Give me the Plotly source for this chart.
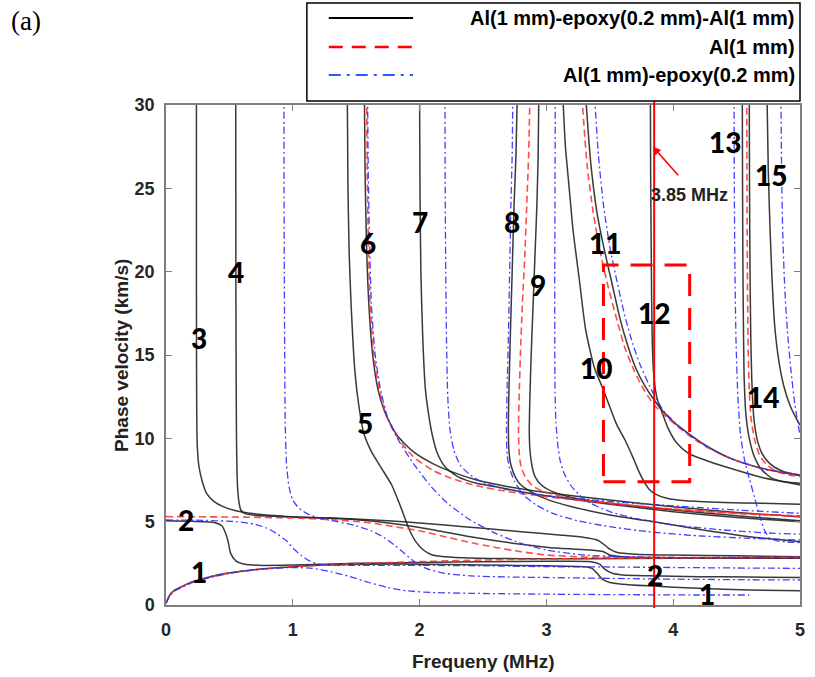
import plotly.graph_objects as go

# ---------------- Al(1 mm)-epoxy(0.2 mm)-Al(1 mm): black solid ----------------
aea_m1_f = [0, 0.03, 0.06, 0.11, 0.21, 0.35, 0.48, 0.73, 1.0, 1.25, 1.6, 2.0, 2.5, 3.0, 3.3, 3.36, 3.4, 3.44, 3.5, 3.6, 3.8, 4.2, 4.6, 5.0]
aea_m1_v = [0.1, 0.6, 0.85, 1.05, 1.4, 1.7, 1.9, 2.15, 2.3, 2.4, 2.45, 2.45, 2.4, 2.35, 2.3, 2.2, 1.9, 1.55, 1.35, 1.25, 1.15, 1.0, 0.9, 0.85]

aea_m2_f = [0, 0.2, 0.38, 0.44, 0.47, 0.49, 0.51, 0.55, 0.62, 0.73, 1.0, 1.5, 2.0, 2.5, 3.0, 3.35, 3.42, 3.46, 3.52, 3.6, 3.8, 4.2, 4.6, 5.0]
aea_m2_v = [5.05, 5.02, 4.95, 4.75, 4.3, 3.8, 3.1, 2.65, 2.45, 2.38, 2.4, 2.5, 2.55, 2.6, 2.62, 2.6, 2.45, 2.15, 1.9, 1.8, 1.75, 1.7, 1.68, 1.65]

aea_m3_f = [0.24, 0.24, 0.241, 0.243, 0.247, 0.26, 0.29, 0.32, 0.38, 0.45, 0.55, 0.66, 0.97, 1.3, 1.6, 2.0, 2.4, 2.8, 3.1, 3.35, 3.45, 3.5, 3.6, 3.8, 4.2, 5.0]
aea_m3_v = [30.5, 20, 14, 11, 9.5, 8.3, 7.3, 6.7, 6.2, 5.9, 5.65, 5.5, 5.3, 5.2, 5.05, 4.65, 4.1, 3.65, 3.4, 3.3, 3.2, 3.0, 2.9, 2.85, 2.82, 2.8]

aea_m4_f = [0.55, 0.551, 0.553, 0.556, 0.56, 0.565, 0.575, 0.59, 0.62, 0.7, 0.85, 1.0, 1.3, 1.6, 1.9, 2.2, 2.5, 2.8, 3.1, 3.3, 3.4, 3.46, 3.5, 3.56, 3.7, 4.0, 4.5, 5.0]
aea_m4_v = [30.5, 20, 14, 10, 8, 7, 6.2, 5.7, 5.5, 5.38, 5.32, 5.28, 5.22, 5.12, 4.98, 4.8, 4.6, 4.4, 4.2, 4.05, 3.9, 3.6, 3.35, 3.15, 3.05, 3.0, 2.95, 2.9]

aea_m5_f = [1.43, 1.435, 1.445, 1.46, 1.49, 1.52, 1.56, 1.62, 1.7, 1.78, 1.84, 1.88, 1.92, 1.97, 2.03, 2.1, 2.2, 2.4, 2.8, 3.3, 4.0, 5.0]
aea_m5_v = [30.5, 25, 21, 18, 14, 12, 10.3, 9.2, 8.2, 7.2, 6.1, 5.3, 4.5, 3.8, 3.3, 3.0, 2.9, 2.82, 2.78, 2.78, 2.8, 2.82]

aea_m6_f = [1.565, 1.57, 1.58, 1.6, 1.63, 1.67, 1.73, 1.82, 1.95, 2.1, 2.25, 2.45, 2.7, 3.0, 3.5, 4.0, 4.5, 5.0]
aea_m6_v = [30.5, 26, 22, 18, 15, 13, 11.5, 10.2, 9.2, 8.5, 8.0, 7.5, 7.1, 6.75, 6.3, 5.9, 5.55, 5.3]

aea_m7_f = [2.0, 2.003, 2.01, 2.025, 2.045, 2.07, 2.1, 2.14, 2.2, 2.3, 2.45, 2.6, 2.8, 3.0, 3.5, 4.0, 4.5, 5.0]
aea_m7_v = [30.5, 25, 20, 16, 13, 11.5, 10.2, 9.1, 8.3, 7.7, 7.3, 7.1, 6.8, 6.55, 6.05, 5.6, 5.25, 5.0]

aea_m8_f = [2.77, 2.76, 2.745, 2.73, 2.715, 2.705, 2.70, 2.705, 2.72, 2.76, 2.8, 2.9, 3.0, 3.2, 3.5, 3.8, 4.2, 4.6, 5.0]
aea_m8_v = [30.5, 27, 24, 20, 16, 13, 10.5, 9.2, 8.4, 7.6, 7.2, 6.7, 6.35, 5.9, 5.4, 5.05, 4.55, 4.1, 3.8]

aea_m9_f = [2.94, 2.935, 2.925, 2.91, 2.895, 2.88, 2.87, 2.865, 2.87, 2.885, 2.91, 2.96, 3.05, 3.2, 3.5, 4.0, 4.5, 5.0]
aea_m9_v = [30.5, 27, 24, 21, 18, 15, 12.5, 10.5, 9.3, 8.4, 7.7, 7.2, 6.8, 6.45, 6.1, 5.7, 5.35, 5.05]

aea_m10_f = [3.13, 3.15, 3.18, 3.21, 3.26, 3.31, 3.38, 3.45, 3.55, 3.62, 3.68, 3.73, 3.77, 3.81, 3.86, 3.95, 4.1, 4.4, 4.7, 5.0]
aea_m10_v = [30.5, 27.5, 25, 22.5, 19.5, 16.5, 14.2, 12.9, 10.9, 9.9, 8.9, 8.0, 7.4, 6.95, 6.65, 6.4, 6.25, 6.15, 6.1, 6.05]

aea_m11_f = [3.31, 3.35, 3.4, 3.46, 3.52, 3.58, 3.64, 3.7, 3.78, 3.85, 3.91, 4.0, 4.1, 4.25, 4.45, 4.7, 5.0]
aea_m11_v = [30.5, 26.5, 23.5, 21.2, 19.2, 17.2, 15.6, 14.3, 13.1, 12.3, 11.7, 11.0, 10.4, 9.6, 8.8, 8.2, 7.75]

aea_m12_f = [3.82, 3.822, 3.826, 3.83, 3.836, 3.845, 3.86, 3.88, 3.91, 3.96, 4.03, 4.12, 4.25, 4.45, 4.7, 5.0]
aea_m12_v = [30.5, 26, 22, 18.3, 15.5, 14.0, 12.9, 12.2, 11.6, 10.6, 9.7, 9.1, 8.7, 8.2, 7.65, 7.2]

aea_m13_f = [4.545, 4.547, 4.55, 4.555, 4.56, 4.575, 4.6, 4.64, 4.7, 4.78, 4.88, 5.0]
aea_m13_v = [30.5, 25, 20, 16, 13.5, 11.3, 10, 8.9, 8.1, 7.6, 7.4, 7.3]

aea_m14_f = [4.6, 4.602, 4.606, 4.612, 4.62, 4.635, 4.66, 4.7, 4.76, 4.84, 4.92, 5.0]
aea_m14_v = [30.5, 25, 20, 16, 13.5, 11.3, 10, 9.1, 8.5, 8.1, 7.9, 7.8]

aea_m15_f = [4.74, 4.75, 4.765, 4.78, 4.8, 4.83, 4.87, 4.92, 4.97, 5.0]
aea_m15_v = [30.5, 26, 22.3, 19.5, 16.8, 14.8, 13.2, 12.0, 11.2, 10.8]

# ---------------- Al(1 mm): red dashed ----------------
al_a0_f = [0, 0.03, 0.06, 0.11, 0.21, 0.35, 0.5, 0.75, 1.0, 1.5, 2.0, 2.5, 3.0, 3.5, 4.0, 4.5, 5.0]
al_a0_v = [0.1, 0.6, 0.85, 1.05, 1.4, 1.7, 1.92, 2.15, 2.3, 2.48, 2.6, 2.7, 2.76, 2.8, 2.82, 2.84, 2.85]

al_s0_f = [0, 0.5, 1.0, 1.3, 1.59, 1.8, 2.0, 2.2, 2.4, 2.6, 2.8, 3.0, 3.3, 3.6, 4.0, 4.5, 5.0]
al_s0_v = [5.3, 5.28, 5.22, 5.12, 4.95, 4.7, 4.45, 4.1, 3.75, 3.45, 3.2, 3.0, 2.88, 2.85, 2.85, 2.85, 2.86]

al_a1_f = [1.583, 1.587, 1.595, 1.61, 1.64, 1.68, 1.74, 1.83, 1.95, 2.1, 2.25, 2.45, 2.7, 3.0, 3.5, 4.0, 4.5, 5.0]
al_a1_v = [30.5, 26, 22, 18, 15, 13, 11.3, 10.0, 8.9, 8.1, 7.6, 7.15, 6.8, 6.5, 6.1, 5.75, 5.5, 5.3]

al_s1_f = [2.87, 2.86, 2.845, 2.83, 2.81, 2.795, 2.785, 2.78, 2.785, 2.8, 2.84, 2.9, 3.0, 3.2, 3.5, 4.0, 4.5, 5.0]
al_s1_v = [30.5, 27, 24, 21, 18, 15, 12.5, 10.5, 9.2, 8.3, 7.6, 7.1, 6.75, 6.4, 6.1, 5.75, 5.5, 5.35]

al_m3_f = [3.28, 3.32, 3.37, 3.43, 3.49, 3.56, 3.62, 3.69, 3.77, 3.85, 3.93, 4.02, 4.12, 4.27, 4.47, 4.72, 5.0]
al_m3_v = [30.5, 26.5, 23.5, 21, 19, 17, 15.4, 14.1, 12.9, 12.0, 11.4, 10.8, 10.2, 9.45, 8.75, 8.15, 7.8]

al_m4_f = [4.58, 4.582, 4.585, 4.59, 4.597, 4.612, 4.64, 4.68, 4.74, 4.82, 4.91, 5.0]
al_m4_v = [30.5, 25, 20, 16, 13.5, 11.3, 10, 9.0, 8.4, 8.0, 7.8, 7.7]

# ---------------- Al(1 mm)-epoxy(0.2 mm): blue dash-dot ----------------
ae_m1_f = [0, 0.03, 0.06, 0.11, 0.21, 0.35, 0.5, 0.75, 1.0, 1.15, 1.3, 1.45, 1.6, 1.75, 1.9, 2.1, 2.4, 3.0, 3.6, 4.2, 4.6]
ae_m1_v = [0.1, 0.55, 0.8, 1.0, 1.35, 1.65, 1.9, 2.15, 2.25, 2.2, 2.0, 1.7, 1.35, 1.05, 0.85, 0.75, 0.7, 0.65, 0.62, 0.6, 0.6]

ae_m2_f = [0, 0.3, 0.55, 0.7, 0.8, 0.88, 0.95, 1.01, 1.07, 1.13, 1.2, 1.35, 1.6, 2.0, 2.5, 3.0, 3.5, 4.0, 4.5, 5.0]
ae_m2_v = [5.1, 5.08, 5.0, 4.85, 4.6, 4.25, 3.85, 3.35, 2.95, 2.65, 2.45, 2.38, 2.38, 2.38, 2.35, 2.3, 2.28, 2.25, 2.22, 2.2]

ae_m3_f = [0.93, 0.931, 0.933, 0.936, 0.94, 0.95, 0.97, 1.0, 1.05, 1.12, 1.22, 1.35, 1.5, 1.62, 1.72, 1.8, 1.88, 1.96, 2.05, 2.2, 2.4, 2.7, 3.0, 3.5, 4.0, 4.5, 5.0]
ae_m3_v = [30.5, 25, 20, 15, 11, 8.5, 7.1, 6.3, 5.8, 5.45, 5.2, 5.0, 4.75, 4.45, 4.05, 3.6, 3.1, 2.6, 2.2, 1.9, 1.75, 1.68, 1.65, 1.6, 1.55, 1.52, 1.5]

ae_m4_f = [1.59, 1.595, 1.605, 1.62, 1.65, 1.69, 1.75, 1.84, 1.95, 2.08, 2.22, 2.4, 2.6, 2.8, 3.0, 3.3, 3.6, 4.0, 4.5, 5.0]
ae_m4_v = [30.5, 26, 22, 18, 15, 13, 11.2, 9.8, 8.5, 7.2, 6.1, 5.1, 4.3, 3.7, 3.3, 3.0, 2.9, 2.85, 2.85, 2.85]

ae_m5_f = [2.2, 2.202, 2.206, 2.212, 2.222, 2.24, 2.27, 2.32, 2.4, 2.5, 2.65, 2.85, 3.0, 3.3, 3.6, 4.0, 4.5, 5.0]
ae_m5_v = [30.5, 25, 20, 16, 12.5, 10.5, 9.3, 8.4, 7.8, 7.35, 7.0, 6.7, 6.55, 6.35, 6.15, 5.95, 5.7, 5.5]

ae_m6_f = [2.735, 2.73, 2.72, 2.71, 2.7, 2.69, 2.685, 2.69, 2.71, 2.75, 2.82, 2.92, 3.05, 3.25, 3.5, 3.8, 4.2, 4.6, 5.0]
ae_m6_v = [30.5, 27, 24, 20, 16, 13, 10.5, 9.0, 8.2, 7.4, 6.6, 6.0, 5.5, 5.05, 4.7, 4.4, 4.15, 4.0, 3.9]

ae_m7_f = [3.07, 3.068, 3.066, 3.066, 3.068, 3.075, 3.09, 3.11, 3.14, 3.19, 3.26, 3.35, 3.5, 3.7, 4.0, 4.4, 4.8, 5.0]
ae_m7_v = [30.5, 25, 20, 16, 13, 11, 9.6, 8.6, 7.9, 7.2, 6.6, 6.1, 5.6, 5.2, 4.8, 4.5, 4.3, 4.25]

ae_m8_f = [3.38, 3.41, 3.45, 3.5, 3.56, 3.62, 3.68, 3.74, 3.81, 3.87, 3.93, 4.02, 4.12, 4.27, 4.47, 4.72, 5.0]
ae_m8_v = [30.5, 27, 24, 21.5, 19.3, 17.3, 15.7, 14.4, 13.2, 12.3, 11.6, 10.9, 10.25, 9.5, 8.75, 8.15, 7.8]

ae_m9_f = [4.48, 4.482, 4.487, 4.495, 4.51, 4.53, 4.56, 4.6, 4.64, 4.68, 4.72, 4.76, 4.82, 4.9, 5.0]
ae_m9_v = [30.5, 25, 20, 16, 12.5, 10.3, 8.8, 7.6, 6.5, 5.4, 4.5, 4.0, 3.85, 3.78, 3.75]

ae_m10_f = [4.85, 4.855, 4.865, 4.88, 4.9, 4.93, 4.96, 5.0]
ae_m10_v = [30.5, 26, 22, 19, 16.5, 14, 12, 10.2]

# ---------------- mode numbers ----------------
mode_labels = ["1", "2", "3", "4", "5", "6", "7", "8", "9", "10", "11", "12", "13", "14", "15", "2", "1"]
mode_label_f = [0.26, 0.16, 0.26, 0.55, 1.57, 1.59, 2.0, 2.73, 2.93, 3.39, 3.46, 3.85, 4.41, 4.71, 4.77, 3.86, 4.27]
mode_label_v = [2.0, 5.1, 16.0, 20.0, 10.9, 21.7, 23.0, 23.0, 19.2, 14.2, 21.7, 17.5, 27.8, 12.5, 25.8, 1.8, 0.66]

# marked frequency and zoom window
marked_freq = 3.85
window_f = [3.45, 4.13]
window_v = [7.4, 20.4]

legend_names = ["Al(1 mm)-epoxy(0.2 mm)-Al(1 mm)", "Al(1 mm)", "Al(1 mm)-epoxy(0.2 mm)"]

BLACK = dict(color="rgba(35,35,35,0.9)", width=1.5)
RED = dict(color="rgba(255,45,45,0.85)", width=1.6, dash="7px,4px")
BLUE = dict(color="rgba(45,45,255,0.9)", width=1.3, dash="7px,3px,2px,3px")

groups = [
    (BLACK, [(aea_m1_f, aea_m1_v), (aea_m2_f, aea_m2_v), (aea_m3_f, aea_m3_v), (aea_m4_f, aea_m4_v),
             (aea_m5_f, aea_m5_v), (aea_m6_f, aea_m6_v), (aea_m7_f, aea_m7_v), (aea_m8_f, aea_m8_v),
             (aea_m9_f, aea_m9_v), (aea_m10_f, aea_m10_v), (aea_m11_f, aea_m11_v), (aea_m12_f, aea_m12_v),
             (aea_m13_f, aea_m13_v), (aea_m14_f, aea_m14_v), (aea_m15_f, aea_m15_v)]),
    (RED, [(al_a0_f, al_a0_v), (al_s0_f, al_s0_v), (al_a1_f, al_a1_v), (al_s1_f, al_s1_v),
           (al_m3_f, al_m3_v), (al_m4_f, al_m4_v)]),
    (BLUE, [(ae_m1_f, ae_m1_v), (ae_m2_f, ae_m2_v), (ae_m3_f, ae_m3_v), (ae_m4_f, ae_m4_v),
            (ae_m5_f, ae_m5_v), (ae_m6_f, ae_m6_v), (ae_m7_f, ae_m7_v), (ae_m8_f, ae_m8_v),
            (ae_m9_f, ae_m9_v), (ae_m10_f, ae_m10_v)]),
]

fig = go.Figure()
for style, curves in groups:
    for f, v in curves:
        fig.add_trace(go.Scatter(x=f, y=v, mode="lines", showlegend=False, hoverinfo="skip",
                                 line=dict(shape="spline", smoothing=0.6, **style)))

# mode numbers
for txt, f, v in zip(mode_labels, mode_label_f, mode_label_v):
    fig.add_annotation(x=f, y=v, text=txt, showarrow=False, xref="x", yref="y",
                       font=dict(family="Lato", size=28, color="black", weight=900))

shapes = []
# vertical marker at the selected frequency
shapes.append(dict(type="line", xref="x", yref="paper", x0=marked_freq, x1=marked_freq,
                   y0=-0.006, y1=1.016, line=dict(color="red", width=2)))
# dashed zoom window
shapes.append(dict(type="rect", xref="x", yref="y", x0=window_f[0], x1=window_f[1],
                   y0=window_v[0], y1=window_v[1], line=dict(color="red", width=3, dash="22px,12px")))

# legend box drawn by hand (text right aligned)
shapes.append(dict(type="rect", xref="paper", yref="paper", x0=0.2222, x1=1.0, y0=1.008, y1=1.204,
                   line=dict(color="black", width=1.5), fillcolor="white", layer="above"))
legend_rows_y = [1.174, 1.116, 1.06]
legend_styles = [dict(color="black", width=2),
                 dict(color="red", width=2.5, dash="14px,9px"),
                 dict(color="rgb(40,90,255)", width=2, dash="12px,6px,3px,6px")]
for yy, st in zip(legend_rows_y, legend_styles):
    shapes.append(dict(type="line", xref="paper", yref="paper", x0=0.2567, x1=0.3897, y0=yy, y1=yy,
                       line=st, layer="above"))
for yy, name in zip(legend_rows_y, legend_names):
    fig.add_annotation(x=0.995, y=yy, xref="paper", yref="paper", text=name, showarrow=False,
                       xanchor="right", yanchor="middle",
                       font=dict(family="Liberation Sans", size=20, color="black", weight="bold"))

# arrow and label for the marked frequency
fig.add_annotation(x=marked_freq - 0.01, y=27.5, ax=4.05, ay=25.7, xref="x", yref="y",
                   axref="x", ayref="y", text="", showarrow=True, arrowhead=2, arrowsize=1,
                   arrowwidth=1.6, arrowcolor="red")
fig.add_annotation(x=4.125, y=24.6, xref="x", yref="y", text="3.85 MHz", showarrow=False,
                   font=dict(family="Liberation Sans", size=18, color="#222222", weight="bold"))

# panel tag and axis titles
fig.add_annotation(x=(8 - 166) / 639, y=(605 - 21) / 500, xref="paper", yref="paper", text="(a)",
                   showarrow=False, xanchor="left", yanchor="middle",
                   font=dict(family="Liberation Serif", size=27, color="black"))
fig.add_annotation(x=0.5, y=-0.112, xref="paper", yref="paper", text="Frequeny (MHz)", showarrow=False,
                   yanchor="middle", font=dict(family="Liberation Sans", size=19, color="#222222", weight="bold"))
fig.add_annotation(x=-0.0908, y=0.5, xref="paper", yref="paper", text="Phase velocity (km/s)",
                   showarrow=False, textangle=-90,
                   font=dict(family="Liberation Sans", size=19, color="#222222", weight="bold"))

axis_common = dict(showline=True, linecolor="#7f7f7f", linewidth=1.5, mirror="ticks",
                   ticks="inside", ticklen=6, tickcolor="#7f7f7f", tickwidth=1.2,
                   showgrid=False, zeroline=False,
                   tickfont=dict(family="Liberation Sans", size=18, color="#262626", weight="bold"))

fig.update_layout(
    width=815, height=677, autosize=False,
    margin=dict(l=166, r=10, t=105, b=72),
    paper_bgcolor="white", plot_bgcolor="white",
    showlegend=False,
    shapes=shapes,
    xaxis=dict(range=[0, 5], tickvals=[0, 1, 2, 3, 4, 5], ticklabelstandoff=8, **axis_common),
    yaxis=dict(range=[0, 30], tickvals=[0, 5, 10, 15, 20, 25, 30], ticklabelstandoff=6, **axis_common),
)

fig.write_html("out.html")
